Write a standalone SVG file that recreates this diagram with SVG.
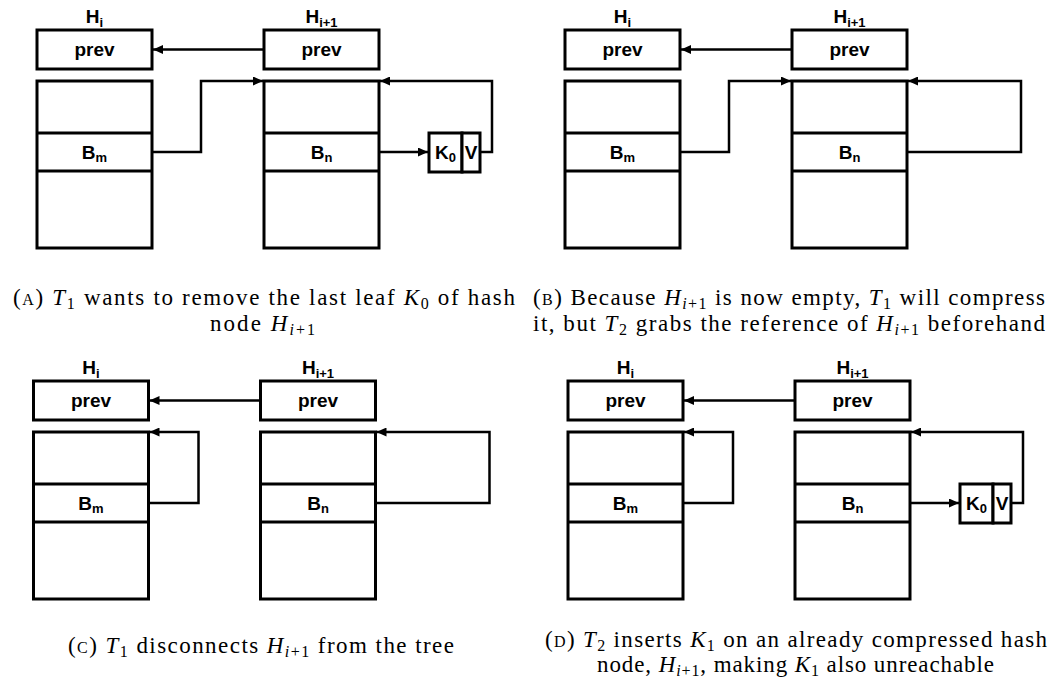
<svg xmlns="http://www.w3.org/2000/svg" width="1061" height="688" viewBox="0 0 1061 688">
  <defs>
    <marker id="arrow" markerUnits="userSpaceOnUse" markerWidth="10" markerHeight="9" refX="10" refY="4.5" orient="auto">
      <path d="M0,0 L10,4.5 L0,9 z" fill="#000"/>
    </marker>
    <style>
      .box { fill: #fff; stroke: #000; stroke-width: 3; }
      .div { stroke: #000; stroke-width: 3; }
      .con { fill: none; stroke: #000; stroke-width: 2.5; marker-end: url(#arrow); }
      .lbl { font-family: "Liberation Sans", Arial, sans-serif; font-weight: bold; font-size: 19px; text-anchor: middle; fill: #000; }
      .ls  { font-size: 13px; }
      .cap { font-family: "Liberation Serif", "Times New Roman", serif; font-size: 23px; fill: #000; }
      .sc  { font-size: 16px; }
      .it  { font-style: italic; }
      .sub { font-size: 16px; }
    </style>
  </defs>

  <!-- Panel A -->
  <g id="panel-a">
    <g id="a-prev-hi">
      <rect class="box" x="37" y="30" width="115" height="39"/>
      <text class="lbl" x="94.5" y="23">H<tspan class="ls" dy="4">i</tspan></text>
      <text class="lbl" x="94.5" y="56">prev</text>
    </g>
    <g id="a-prev-hi1">
      <rect class="box" x="264" y="30" width="115" height="39"/>
      <text class="lbl" x="321.5" y="23">H<tspan class="ls" dy="4">i+1</tspan></text>
      <text class="lbl" x="321.5" y="56">prev</text>
    </g>
    <g id="a-table-hi">
      <rect class="box" x="37" y="81" width="115" height="167"/>
      <line class="div" x1="37" y1="133" x2="152" y2="133"/>
      <line class="div" x1="37" y1="171" x2="152" y2="171"/>
      <text class="lbl" x="94.5" y="159">B<tspan class="ls" dy="3">m</tspan></text>
    </g>
    <g id="a-table-hi1">
      <rect class="box" x="264" y="81" width="115" height="167"/>
      <line class="div" x1="264" y1="133" x2="379" y2="133"/>
      <line class="div" x1="264" y1="171" x2="379" y2="171"/>
      <text class="lbl" x="321.5" y="159">B<tspan class="ls" dy="3">n</tspan></text>
    </g>
    <g id="a-leaf">
      <rect class="box" x="429" y="133" width="33" height="39"/>
      <rect class="box" x="462" y="133" width="18" height="39"/>
      <text class="lbl" x="445.5" y="159">K<tspan class="ls" dy="3">0</tspan></text>
      <text class="lbl" x="471" y="159">V</text>
    </g>
    <g id="a-connectors">
      <path class="con" d="M264,49.5 H153"/>
      <path class="con" d="M152,152 H201 V81 H263"/>
      <path class="con" d="M379,152 H428"/>
      <path class="con" d="M480,152 H492 V81 H380"/>
    </g>
  </g>

  <!-- Panel B -->
  <g id="panel-b" transform="translate(528,0)">
    <g id="b-prev-hi">
      <rect class="box" x="37" y="30" width="115" height="39"/>
      <text class="lbl" x="94.5" y="23">H<tspan class="ls" dy="4">i</tspan></text>
      <text class="lbl" x="94.5" y="56">prev</text>
    </g>
    <g id="b-prev-hi1">
      <rect class="box" x="264" y="30" width="115" height="39"/>
      <text class="lbl" x="321.5" y="23">H<tspan class="ls" dy="4">i+1</tspan></text>
      <text class="lbl" x="321.5" y="56">prev</text>
    </g>
    <g id="b-table-hi">
      <rect class="box" x="37" y="81" width="115" height="167"/>
      <line class="div" x1="37" y1="133" x2="152" y2="133"/>
      <line class="div" x1="37" y1="171" x2="152" y2="171"/>
      <text class="lbl" x="94.5" y="159">B<tspan class="ls" dy="3">m</tspan></text>
    </g>
    <g id="b-table-hi1">
      <rect class="box" x="264" y="81" width="115" height="167"/>
      <line class="div" x1="264" y1="133" x2="379" y2="133"/>
      <line class="div" x1="264" y1="171" x2="379" y2="171"/>
      <text class="lbl" x="321.5" y="159">B<tspan class="ls" dy="3">n</tspan></text>
    </g>
    <g id="b-connectors">
      <path class="con" d="M264,49.5 H153"/>
      <path class="con" d="M152,152 H201 V81 H263"/>
      <path class="con" d="M379,152 H493 V81 H380"/>
    </g>
  </g>

  <!-- Panel C -->
  <g id="panel-c" transform="translate(-3.5,351)">
    <g id="c-prev-hi">
      <rect class="box" x="37" y="30" width="115" height="39"/>
      <text class="lbl" x="94.5" y="23">H<tspan class="ls" dy="4">i</tspan></text>
      <text class="lbl" x="94.5" y="56">prev</text>
    </g>
    <g id="c-prev-hi1">
      <rect class="box" x="264" y="30" width="115" height="39"/>
      <text class="lbl" x="321.5" y="23">H<tspan class="ls" dy="4">i+1</tspan></text>
      <text class="lbl" x="321.5" y="56">prev</text>
    </g>
    <g id="c-table-hi">
      <rect class="box" x="37" y="81" width="115" height="167"/>
      <line class="div" x1="37" y1="133" x2="152" y2="133"/>
      <line class="div" x1="37" y1="171" x2="152" y2="171"/>
      <text class="lbl" x="94.5" y="159">B<tspan class="ls" dy="3">m</tspan></text>
    </g>
    <g id="c-table-hi1">
      <rect class="box" x="264" y="81" width="115" height="167"/>
      <line class="div" x1="264" y1="133" x2="379" y2="133"/>
      <line class="div" x1="264" y1="171" x2="379" y2="171"/>
      <text class="lbl" x="321.5" y="159">B<tspan class="ls" dy="3">n</tspan></text>
    </g>
    <g id="c-connectors">
      <path class="con" d="M264,49.5 H153"/>
      <path class="con" d="M152,152 H202 V81 H153"/>
      <path class="con" d="M379,152 H493 V81 H380"/>
    </g>
  </g>

  <!-- Panel D -->
  <g id="panel-d" transform="translate(531,351)">
    <g id="d-prev-hi">
      <rect class="box" x="37" y="30" width="115" height="39"/>
      <text class="lbl" x="94.5" y="23">H<tspan class="ls" dy="4">i</tspan></text>
      <text class="lbl" x="94.5" y="56">prev</text>
    </g>
    <g id="d-prev-hi1">
      <rect class="box" x="264" y="30" width="115" height="39"/>
      <text class="lbl" x="321.5" y="23">H<tspan class="ls" dy="4">i+1</tspan></text>
      <text class="lbl" x="321.5" y="56">prev</text>
    </g>
    <g id="d-table-hi">
      <rect class="box" x="37" y="81" width="115" height="167"/>
      <line class="div" x1="37" y1="133" x2="152" y2="133"/>
      <line class="div" x1="37" y1="171" x2="152" y2="171"/>
      <text class="lbl" x="94.5" y="159">B<tspan class="ls" dy="3">m</tspan></text>
    </g>
    <g id="d-table-hi1">
      <rect class="box" x="264" y="81" width="115" height="167"/>
      <line class="div" x1="264" y1="133" x2="379" y2="133"/>
      <line class="div" x1="264" y1="171" x2="379" y2="171"/>
      <text class="lbl" x="321.5" y="159">B<tspan class="ls" dy="3">n</tspan></text>
    </g>
    <g id="d-leaf">
      <rect class="box" x="429" y="133" width="33" height="39"/>
      <rect class="box" x="462" y="133" width="18" height="39"/>
      <text class="lbl" x="445.5" y="159">K<tspan class="ls" dy="3">0</tspan></text>
      <text class="lbl" x="471" y="159">V</text>
    </g>
    <g id="d-connectors">
      <path class="con" d="M264,49.5 H153"/>
      <path class="con" d="M152,152 H202 V81 H153"/>
      <path class="con" d="M379,152 H428"/>
      <path class="con" d="M480,152 H492 V81 H380"/>
    </g>
  </g>

  <!-- Sub-captions -->
  <g id="captions">
    <text class="cap" x="13" y="305" textLength="502" lengthAdjust="spacing">(<tspan class="sc">A</tspan>) <tspan class="it">T</tspan><tspan class="sub" dy="4">1</tspan><tspan dy="-4"> wants to remove the last leaf </tspan><tspan class="it">K</tspan><tspan class="sub" dy="4">0</tspan><tspan dy="-4"> of hash</tspan></text>
    <text class="cap" x="210" y="331" textLength="105" lengthAdjust="spacing">node <tspan class="it">H</tspan><tspan class="sub" dy="4"><tspan class="it">i</tspan>+1</tspan></text>

    <text class="cap" x="533" y="305" textLength="512" lengthAdjust="spacing">(<tspan class="sc">B</tspan>) Because <tspan class="it">H</tspan><tspan class="sub" dy="4"><tspan class="it">i</tspan>+1</tspan><tspan dy="-4"> is now empty, </tspan><tspan class="it">T</tspan><tspan class="sub" dy="4">1</tspan><tspan dy="-4"> will compress</tspan></text>
    <text class="cap" x="533" y="331" textLength="512" lengthAdjust="spacing">it, but <tspan class="it">T</tspan><tspan class="sub" dy="4">2</tspan><tspan dy="-4"> grabs the reference of </tspan><tspan class="it">H</tspan><tspan class="sub" dy="4"><tspan class="it">i</tspan>+1</tspan><tspan dy="-4"> beforehand</tspan></text>

    <text class="cap" x="68" y="653" textLength="386" lengthAdjust="spacing">(<tspan class="sc">C</tspan>) <tspan class="it">T</tspan><tspan class="sub" dy="4">1</tspan><tspan dy="-4"> disconnects </tspan><tspan class="it">H</tspan><tspan class="sub" dy="4"><tspan class="it">i</tspan>+1</tspan><tspan dy="-4"> from the tree</tspan></text>

    <text class="cap" x="545" y="647" textLength="502" lengthAdjust="spacing">(<tspan class="sc">D</tspan>) <tspan class="it">T</tspan><tspan class="sub" dy="4">2</tspan><tspan dy="-4"> inserts </tspan><tspan class="it">K</tspan><tspan class="sub" dy="4">1</tspan><tspan dy="-4"> on an already compressed hash</tspan></text>
    <text class="cap" x="597" y="672" textLength="397" lengthAdjust="spacing">node, <tspan class="it">H</tspan><tspan class="sub" dy="4"><tspan class="it">i</tspan>+1</tspan><tspan dy="-4">, making </tspan><tspan class="it">K</tspan><tspan class="sub" dy="4">1</tspan><tspan dy="-4"> also unreachable</tspan></text>
  </g>
</svg>
